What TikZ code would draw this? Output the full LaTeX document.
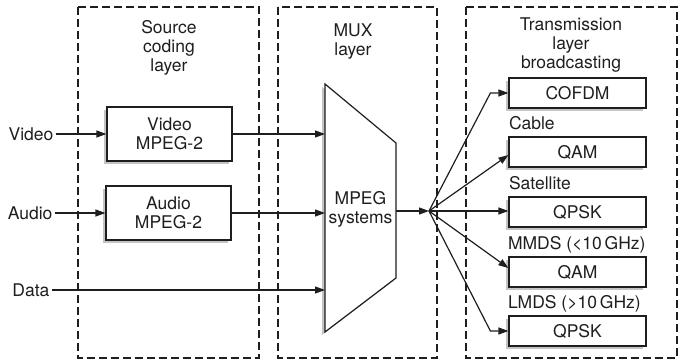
\documentclass[tikz,border=0pt]{standalone}
\usepackage{fontspec}
\setmainfont{TeX Gyre Heros}
\usetikzlibrary{arrows.meta, positioning, shadows}
\definecolor{cink}{HTML}{1E1E1E}
\definecolor{cshade}{HTML}{C4C4C4}
\tikzset{
  every picture/.style={x=1pt, y=-1pt, line width=1.2pt, draw=cink, text=cink,
                        font=\fontsize{17.5}{19}\selectfont},
  layer/.style={draw=cink, dash pattern=on 8pt off 4pt},
  shade/.style={drop shadow={shadow xshift=-3pt, shadow yshift=-3pt, fill=cshade, opacity=1}},
  blk/.style={draw=cink, fill=white, shade, align=center, inner sep=0pt,
              minimum width=125pt, minimum height=54pt},
  txbox/.style={blk, minimum width=137pt, minimum height=30pt},
  head/.style={align=center, inner sep=1pt},
  lbl/.style={inner sep=2pt},
  arrow/.style={-{Triangle[length=10pt, width=7pt]}, draw=cink},
}

\begin{document}
\begin{tikzpicture}
  \useasboundingbox (0,0) rectangle (680,363);
  % the three layers
  \draw[layer] (78,7) rectangle (259,358);
  \draw[layer] (278,7) rectangle (437,358);
  \draw[layer] (466,7) rectangle (677,358);
  \node[head] (hsrc) at (169,48) {Source\\coding\\layer};
  \node[head] (hmux) at (353,42) {MUX\\layer};
  \node[head] (htx) at (571,45) {Transmission\\layer\\broadcasting};

  % source coding
  \node[blk] (vid) at (169.5,134) {Video\\MPEG-2};
  \node[blk] (aud) at (168.5,213) {Audio\\MPEG-2};
  \node[lbl, anchor=east] (vin) at (56,134) {Video};
  \node[lbl, anchor=east] (ain) at (55,213) {Audio};
  \node[lbl, anchor=east] (din) at (52,290) {Data};

  % multiplexer
  \draw[fill=white, shade] (325,84) -- (396,143) -- (396,278) -- (325,332) -- cycle;
  \node[head] (mux) at (360.5,209) {MPEG\\systems};
  \coordinate (muxin) at (325,208);
  \coordinate (muxout) at (396,211);
  \coordinate (fan) at (429,211);

  \draw[arrow] (vin) -- (vid);
  \draw[arrow] (ain) -- (aud);
  \draw[arrow] (vid.east) -- (vid.east -| muxin);
  \draw[arrow] (aud.east) -- (aud.east -| muxin);
  \draw[arrow] (din.east) -- (din.east -| muxin);
  \draw[arrow] (muxout) -- (fan);

  % transmission
  \node[txbox] (cofdm) at (577.5,93) {COFDM};
  \node[txbox] (qam1) at (577.5,152) {QAM};
  \node[txbox] (qpsk1) at (577.5,212) {QPSK};
  \node[txbox] (qam2) at (577.5,272) {QAM};
  \node[txbox] (qpsk2) at (577.5,331) {QPSK};
  \node[lbl, anchor=base west, inner sep=0pt] (lcab) at ([yshift=7pt]qam1.north west) {Cable};
  \node[lbl, anchor=base west, inner sep=0pt] (lsat) at ([yshift=7pt]qpsk1.north west) {Satellite};
  \node[lbl, anchor=base west, inner sep=0pt] (lmmds) at ([xshift=-1pt,yshift=7pt]qam2.north west) {MMDS (<10\,GHz)};
  \node[lbl, anchor=base west, inner sep=0pt] (llmds) at ([xshift=-1pt,yshift=7pt]qpsk2.north west) {LMDS (>10\,GHz)};

  \draw[arrow] (fan) -- ([xshift=-18pt]cofdm.west) -- (cofdm.west);
  \draw[arrow] (fan) -- ([yshift=-3pt]qam1.west);
  \draw[arrow] (fan) -- (fan -| qpsk1.west);
  \draw[arrow] (fan) -- ([yshift=4pt]qam2.west);
  \draw[arrow] (fan) -- ([xshift=-18pt]qpsk2.west) -- (qpsk2.west);
\end{tikzpicture}
\end{document}
